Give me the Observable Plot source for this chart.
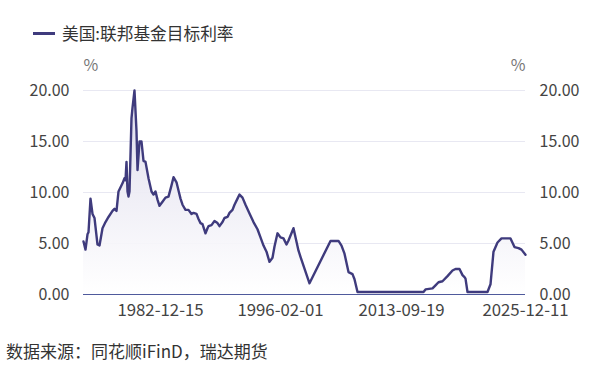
<!DOCTYPE html>
<html>
<head>
<meta charset="utf-8">
<script src="https://cdn.jsdelivr.net/npm/d3@7"></script>
<script src="https://cdn.jsdelivr.net/npm/@observablehq/plot@0.6"></script>
<style>
  html, body { margin: 0; padding: 0; background: #fff; }
  #wrap { position: relative; width: 616px; height: 372px; overflow: hidden; font-family: "Noto Sans CJK SC", "Noto Sans", sans-serif; }
  #legend { position: absolute; left: 33px; top: 21px; display: flex; align-items: center; font-size: 16.7px; color: #333; }
  #legend .sw { width: 22px; height: 3px; background: #3f3b7d; margin-right: 7px; }
  #chart { position: absolute; left: 0; top: 0; }
  #caption { position: absolute; left: 6px; top: 338px; font-size: 17px; color: #333; }
</style>
</head>
<body>
<div id="wrap">
  <div id="chart"></div>
  <div id="legend"><span class="sw"></span><span>美国:联邦基金目标利率</span></div>
  <div id="caption">数据来源：同花顺iFinD，瑞达期货</div>
</div>
<script>
// Observation sequence number on the category axis (each step = one observation)
const seqNo = [0,2,4,5,7,9,11,14,16,19,22,25,29,31,33,35,39,41,42,43,44,45,46,48,49,51,53,54,56,58,60,62,65,68,70,72,74,76,79,82,85,88,90,93,95,97,99,102,105,108,110,113,115,117,119,122,124,125,128,131,134,136,139,141,144,146,149,151,154,156,159,162,166,170,174,177,180,183,186,189,191,194,197,200,203,205,210,215,217,226,247,255,258,261,265,269,271,274,340,342,349,352,355,359,364,369,372,376,379,381,382,384,404,407,410,414,418,427,431,435,438,442];
// 美国:联邦基金目标利率 (%)
const rate = [5.2,4.4,5.9,6.1,9.4,7.9,7.5,4.9,4.8,6.5,7.1,7.6,8.2,8.4,8.2,10.1,10.9,11.4,11.2,13.0,10.1,9.6,10.1,17.3,18.3,20.0,16.0,12.2,15.0,15.0,13.1,13.0,11.4,10.1,9.8,10.1,9.3,8.7,9.1,9.5,9.6,10.7,11.5,11.0,10.2,9.4,8.8,8.3,8.3,7.9,8.0,7.9,7.4,7.0,6.9,6.0,6.5,6.7,6.8,7.2,7.0,6.7,7.1,7.5,7.6,8.0,8.3,8.8,9.4,9.8,9.5,8.8,7.95,7.1,6.4,5.6,4.8,4.2,3.2,3.6,4.7,6.0,5.6,5.5,4.9,5.3,6.5,4.3,3.7,1.1,5.25,5.25,4.8,4.0,2.2,2.0,1.5,0.25,0.25,0.5,0.6,0.9,1.2,1.3,1.8,2.35,2.5,2.5,1.9,1.7,1.55,0.25,0.25,1.0,4.2,5.1,5.5,5.5,4.65,4.55,4.4,3.9];
// Category-axis tick labels and their observation numbers
const tickLabels = ["1982-12-15","1996-02-01","2013-09-19","2025-12-11"];
const tickSeq = [77,197,318,442];
const yTicks = [0,5,10,15,20];

const data = seqNo.map((s, i) => ({s, v: rate[i]}));

const chart = Plot.plot({
  width: 616,
  height: 332,
  marginLeft: 83,
  marginRight: 91,
  marginTop: 90,
  marginBottom: 38,
  style: { fontFamily: '"Noto Sans CJK SC", "Noto Sans", sans-serif', fontSize: "16px", color: "#444", background: "transparent" },
  x: { domain: [0, 442], axis: null },
  y: { domain: [0, 20], axis: null },
  marks: [
    Plot.gridY([5,10,15,20], { stroke: "#e8e8f2", strokeOpacity: 1 }),
    Plot.areaY(data, { x: "s", y: "v", fill: "url(#fedGrad)" }),
    Plot.ruleY([0], { stroke: "#4f5a9c", strokeWidth: 1.2 }),
    Plot.lineY(data, { x: "s", y: "v", stroke: "#3f3b7d", strokeWidth: 2.4 }),
    Plot.axisY(yTicks, { anchor: "left", label: null, tickSize: 0, tickPadding: 14, tickFormat: d => d.toFixed(2), fill: "#444" }),
    Plot.axisY(yTicks, { anchor: "right", label: null, tickSize: 0, tickPadding: 14, tickFormat: d => d.toFixed(2), fill: "#444" }),
    Plot.axisX(tickSeq, { anchor: "bottom", label: null, tickSize: 0, tickPadding: 10, fontSize: 16.8, tickFormat: (d, i) => tickLabels[i], fill: "#444" }),
    Plot.text(["%"], { frameAnchor: "top-left", textAnchor: "start", dy: -31, fill: "#777" }),
    Plot.text(["%"], { frameAnchor: "top-right", textAnchor: "end", dy: -31, fill: "#777" })
  ]
});

const svg = d3.select(chart);
const defs = svg.insert("defs", ":first-child");
const g = defs.append("linearGradient").attr("id", "fedGrad").attr("x1", 0).attr("y1", 0).attr("x2", 0).attr("y2", 1);
g.append("stop").attr("offset", "0%").attr("stop-color", "#dcdaeb").attr("stop-opacity", 0.95);
g.append("stop").attr("offset", "100%").attr("stop-color", "#ffffff").attr("stop-opacity", 0.9);

document.getElementById("chart").appendChild(chart);
</script>
</body>
</html>
